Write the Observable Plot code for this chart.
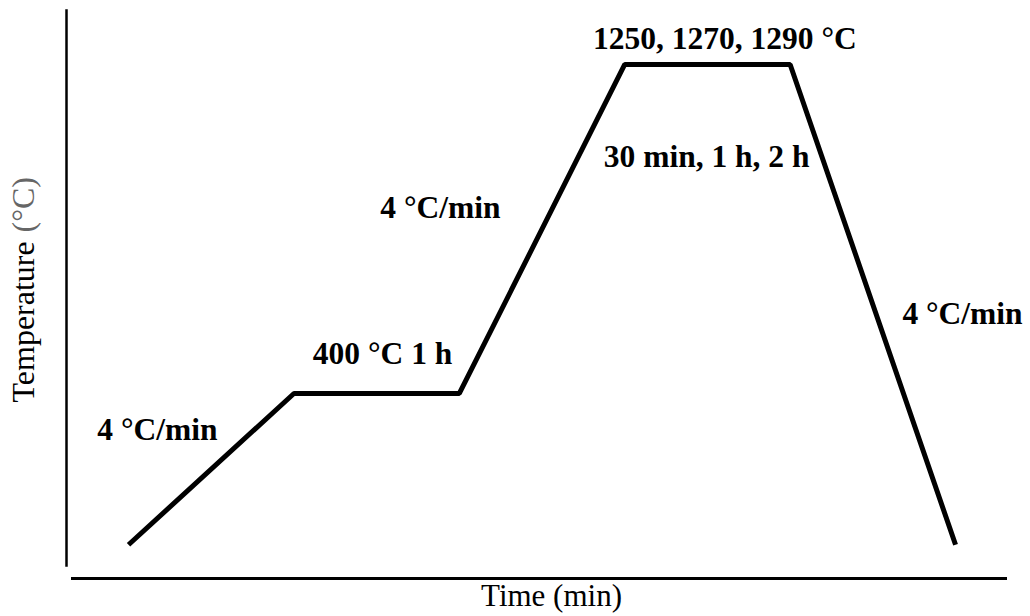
<!DOCTYPE html>
<html><head><meta charset="utf-8">
<script src="https://cdn.jsdelivr.net/npm/d3@7"></script>
<script src="https://cdn.jsdelivr.net/npm/@observablehq/plot@0.6"></script>
<style>body{margin:0;background:#fff}</style>
</head><body><div id="chart"></div>
<script>
const stageTime = [0, 1, 2, 3, 4, 5];
const stageTemp = [0, 400, 400, 1270, 1270, 0];
const labelText = ["4 °C/min", "400 °C 1 h", "4 °C/min", "1250, 1270, 1290 °C", "30 min, 1 h, 2 h", "4 °C/min"];
const labelTime = [0.175, 1.536, 1.886, 3.606, 3.495, 5.042];
const labelTemp = [276, 479, 863, 1312, 998, 585];
const xTitle = "Time (min)";
const yTitleMain = "Temperature";
const yTitleUnit = "(°C)";

const profile = stageTime.map((t, i) => ({time: t, temp: stageTemp[i]}));
const labels = labelText.map((s, i) => ({text: s, time: labelTime[i], temp: labelTemp[i]}));
const serif = "Liberation Serif, Times New Roman, serif";

const chart = Plot.plot({
  width: 1030, height: 616,
  marginLeft: 66, marginRight: 25, marginTop: 10, marginBottom: 51,
  x: {domain: [-0.375, 5.302], axis: null},
  y: {domain: [-54.8, 1412.7], axis: null},
  style: {fontFamily: serif, background: "#fff", color: "#000"},
  marks: [
    Plot.frame({anchor: "left", stroke: "#000", strokeWidth: 2.5}),
    Plot.frame({anchor: "bottom", stroke: "#000", strokeWidth: 3, dy: 13, insetLeft: 6}),
    Plot.line(profile, {x: "time", y: "temp", stroke: "#000", strokeWidth: 5, strokeLinejoin: "miter", strokeLinecap: "butt"}),
    Plot.text(labels, {x: "time", y: "temp", text: "text", fontFamily: serif, fontSize: 31.5, fontWeight: "bold", lineAnchor: "bottom", textAnchor: "middle", fill: "#000"}),
    Plot.text([xTitle], {frameAnchor: "bottom", dx: 15.5, dy: 40, lineAnchor: "bottom", fontFamily: serif, fontSize: 31, fill: "#000"}),
    Plot.text([yTitleMain], {frameAnchor: "left", dx: -33, dy: 114.5, rotate: -90, textAnchor: "start", lineAnchor: "bottom", fontFamily: serif, fontSize: 32, fill: "#000"}),
    Plot.text([yTitleUnit], {frameAnchor: "left", dx: -33, dy: -111, rotate: -90, textAnchor: "end", lineAnchor: "bottom", fontFamily: serif, fontSize: 32, fill: "#666"})
  ]
});
document.getElementById("chart").append(chart);
</script></body></html>
